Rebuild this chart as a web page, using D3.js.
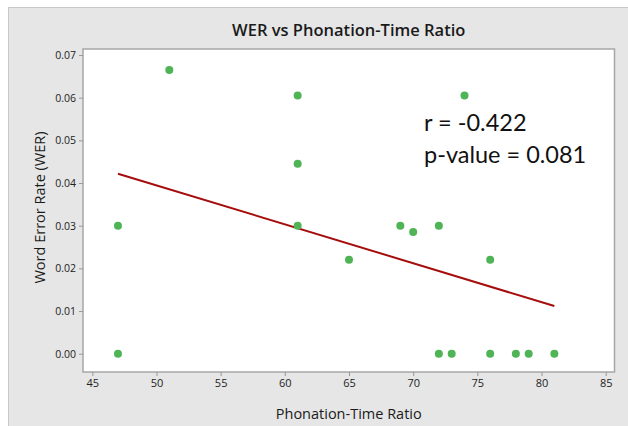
<!DOCTYPE html>
<html>
<head>
<meta charset="utf-8">
<script src="https://cdn.jsdelivr.net/npm/d3@7"></script>
<style>
  html, body { margin: 0; padding: 0; background: #ffffff; }
  svg { display: block; }
</style>
</head>
<body>
<svg id="chart" width="628" height="426"></svg>
<script>
// ---- Data ----
const phonationRatio = [47, 47, 51, 61, 61, 61, 65, 69, 70, 72, 72, 73, 74, 76, 76, 78, 79, 81];
const werValues      = [0.030, 0.000, 0.0665, 0.0605, 0.0445, 0.030, 0.022, 0.030, 0.0285, 0.030, 0.000, 0.000, 0.0605, 0.022, 0.000, 0.000, 0.000, 0.000];
const xTicks = [45, 50, 55, 60, 65, 70, 75, 80, 85];
const yTicks = [0.00, 0.01, 0.02, 0.03, 0.04, 0.05, 0.06, 0.07];
const titleText = "WER vs Phonation-Time Ratio";
const xLabel = "Phonation-Time Ratio";
const yLabel = "Word Error Rate (WER)";
const annotations = ["r = -0.422", "p-value = 0.081"];

// ---- Layout ----
const svg = d3.select("#chart");
const plot = { left: 83, top: 49, right: 614.5, bottom: 372 };

svg.append("rect").attr("x", 8.5).attr("y", 7.5).attr("width", 640).attr("height", 440)
  .attr("fill", "#e6e6e6").attr("stroke", "#c9c9c9").attr("stroke-width", 1);

svg.append("rect").attr("x", plot.left).attr("y", plot.top)
  .attr("width", plot.right - plot.left).attr("height", plot.bottom - plot.top)
  .attr("fill", "#ffffff").attr("stroke", "#a6a6a6").attr("stroke-width", 1.5);

const x = d3.scaleLinear().domain([45, 85]).range([92.3, 605.7]);
const y = d3.scaleLinear().domain([0, 0.07]).range([353.7, 55]);

// ---- Axes ----
const xAxis = d3.axisBottom(x).tickValues(xTicks).tickSize(4).tickPadding(3).tickFormat(d3.format("d"));
const gx = svg.append("g").attr("transform", `translate(0,${plot.bottom})`).call(xAxis);
gx.select(".domain").remove();
gx.selectAll(".tick line").attr("stroke", "#999");
gx.selectAll(".tick text").attr("font-family", "'Open Sans', sans-serif").attr("font-size", "11px").attr("fill", "#222");

const yAxis = d3.axisLeft(y).tickValues(yTicks).tickSize(4).tickPadding(3).tickFormat(d3.format(".2f"));
const gy = svg.append("g").attr("transform", `translate(${plot.left},0)`).call(yAxis);
gy.select(".domain").remove();
gy.selectAll(".tick line").attr("stroke", "#999");
gy.selectAll(".tick text").attr("font-family", "'Open Sans', sans-serif").attr("font-size", "10.5px").attr("fill", "#222");

// ---- Regression line ----
const n = phonationRatio.length;
const mx = d3.mean(phonationRatio), my = d3.mean(werValues);
let sxy = 0, sxx = 0;
for (let i = 0; i < n; i++) { sxy += (phonationRatio[i]-mx)*(werValues[i]-my); sxx += (phonationRatio[i]-mx)**2; }
const slope = sxy / sxx, intercept = my - slope * mx;
const xr = d3.extent(phonationRatio);
const fitPts = xr.map(v => [v, intercept + slope * v]);
svg.append("path").datum(fitPts)
  .attr("d", d3.line().x(d => x(d[0])).y(d => y(d[1])))
  .attr("fill", "none").attr("stroke", "#a50d0d").attr("stroke-width", 2);

// ---- Points ----
svg.append("g").selectAll("circle").data(d3.range(n)).join("circle")
  .attr("cx", i => x(phonationRatio[i])).attr("cy", i => y(werValues[i]))
  .attr("r", 4).attr("fill", "#4fb456");

// ---- Titles ----
svg.append("text").attr("x", (plot.left + plot.right) / 2).attr("y", 36)
  .attr("text-anchor", "middle").attr("font-family", "'Open Sans', sans-serif")
  .attr("font-size", "16.5px").attr("font-weight", 600).attr("fill", "#1a1a1a").text(titleText);

svg.append("text").attr("x", (plot.left + plot.right) / 2).attr("y", 419)
  .attr("text-anchor", "middle").attr("font-family", "'Open Sans', sans-serif")
  .attr("font-size", "14.5px").attr("fill", "#1a1a1a").text(xLabel);

svg.append("text").attr("transform", `translate(45,${(plot.top + plot.bottom) / 2 - 3}) rotate(-90)`)
  .attr("text-anchor", "middle").attr("font-family", "'Open Sans', sans-serif")
  .attr("font-size", "14.5px").attr("fill", "#1a1a1a").text(yLabel);

// ---- Annotation ----
svg.append("g").selectAll("text").data(annotations).join("text")
  .attr("x", 424).attr("y", (d, i) => 131 + i * 32)
  .attr("font-family", "Lato, sans-serif").attr("font-size", "23.5px").attr("fill", "#111")
  .text(d => d);
</script>
</body>
</html>
